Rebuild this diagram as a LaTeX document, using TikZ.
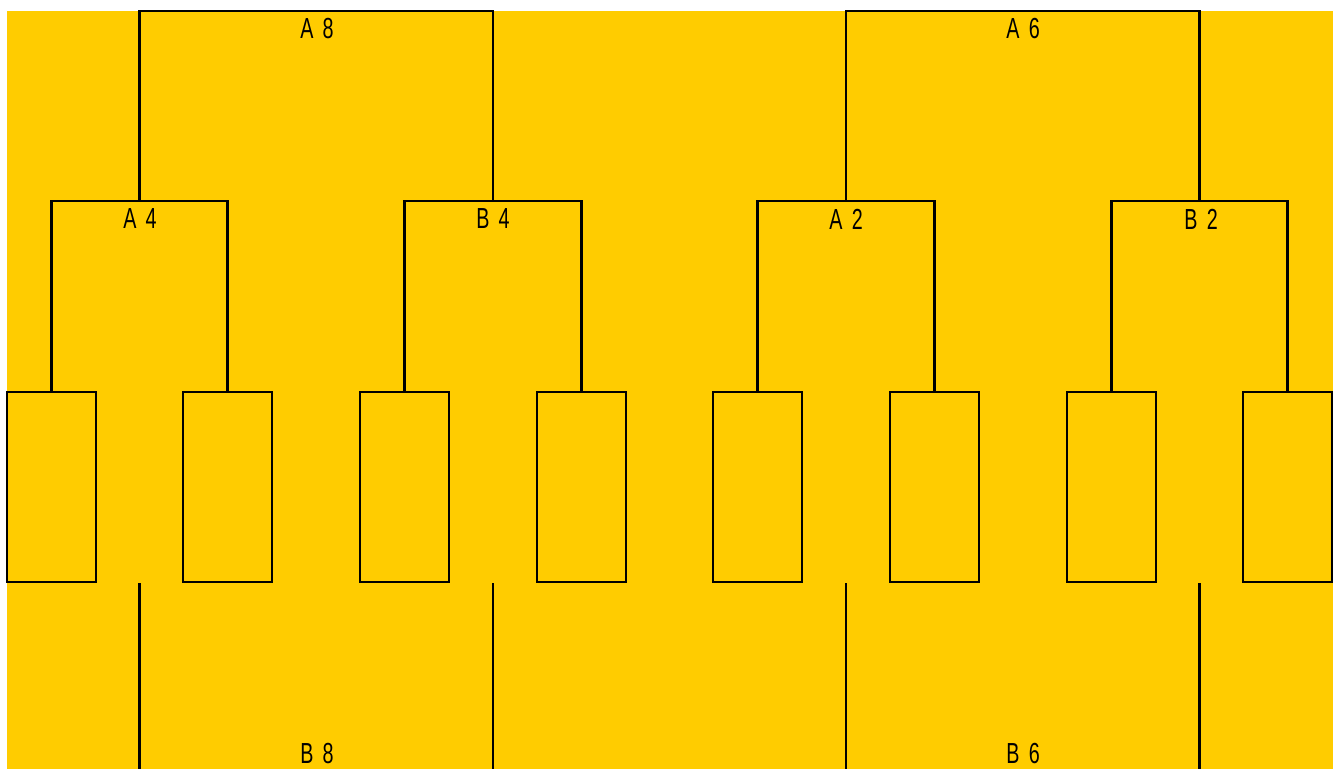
\documentclass[tikz,border=0pt]{standalone}
\usepackage{fontspec}
\newfontfamily\labfont[FakeStretch=0.68,WordSpace=1.7]{Liberation Sans}
\definecolor{bgyellow}{RGB}{255,204,0}
\begin{document}
\begin{tikzpicture}[x=1pt,y=-1pt,
  slot/.style={draw=black,line width=2.5pt,minimum width=89pt,minimum height=190pt,inner sep=0pt,outer sep=0pt},
  wire/.style={draw=black,line width=2.5pt},
  lab/.style={font=\labfont\fontsize{29}{31}\selectfont,inner sep=0pt,text=black}]
\useasboundingbox (0,0) rectangle (1339,769);
\fill[white] (0,0) rectangle (1339,769);
\fill[bgyellow] (7,11) rectangle (1333,769);
% boxes
\foreach \i/\x in {1/51.5,2/227.5,3/404.5,4/581.5,5/757.5,6/934.5,7/1111.5,8/1287.5}
  \node[slot] (b\i) at (\x,487) {};
% bracket midpoints
\coordinate (q1) at (139.5,201);
\coordinate (q2) at (493,201);
\coordinate (q3) at (846,201);
\coordinate (q4) at (1199.5,201);
\coordinate (t1) at (316,11);
\coordinate (t2) at (1023,11);
% second level
\draw[wire] (b1.north) |- (q1) -| (b2.north);
\draw[wire] (b3.north) |- (q2) -| (b4.north);
\draw[wire] (b5.north) |- (q3) -| (b6.north);
\draw[wire] (b7.north) |- (q4) -| (b8.north);
% top level
\draw[wire] (q1) |- (t1) -| (q2);
\draw[wire] (q3) |- (t2) -| (q4);
% bottom lines
\coordinate (s1) at (139.5,583); \coordinate (e1) at (139.5,769);
\coordinate (s2) at (493,583);   \coordinate (e2) at (493,769);
\coordinate (s3) at (846,583);   \coordinate (e3) at (846,769);
\coordinate (s4) at (1199.5,583);\coordinate (e4) at (1199.5,769);
\draw[wire] (s1) -- (e1);
\draw[wire] (s2) -- (e2);
\draw[wire] (s3) -- (e3);
\draw[wire] (s4) -- (e4);
% labels
\node[lab] (lA8) at (317,29) {A 8};
\node[lab] (lA6) at (1023,29) {A 6};
\node[lab] (lA4) at (140,219) {A 4};
\node[lab] (lB4) at (493,219) {B 4};
\node[lab] (lA2) at (846,219) {A 2};
\node[lab] (lB2) at (1201,219) {B 2};
\node[lab] (lB8) at (317,754) {B 8};
\node[lab] (lB6) at (1023,754) {B 6};
\end{tikzpicture}
\end{document}
